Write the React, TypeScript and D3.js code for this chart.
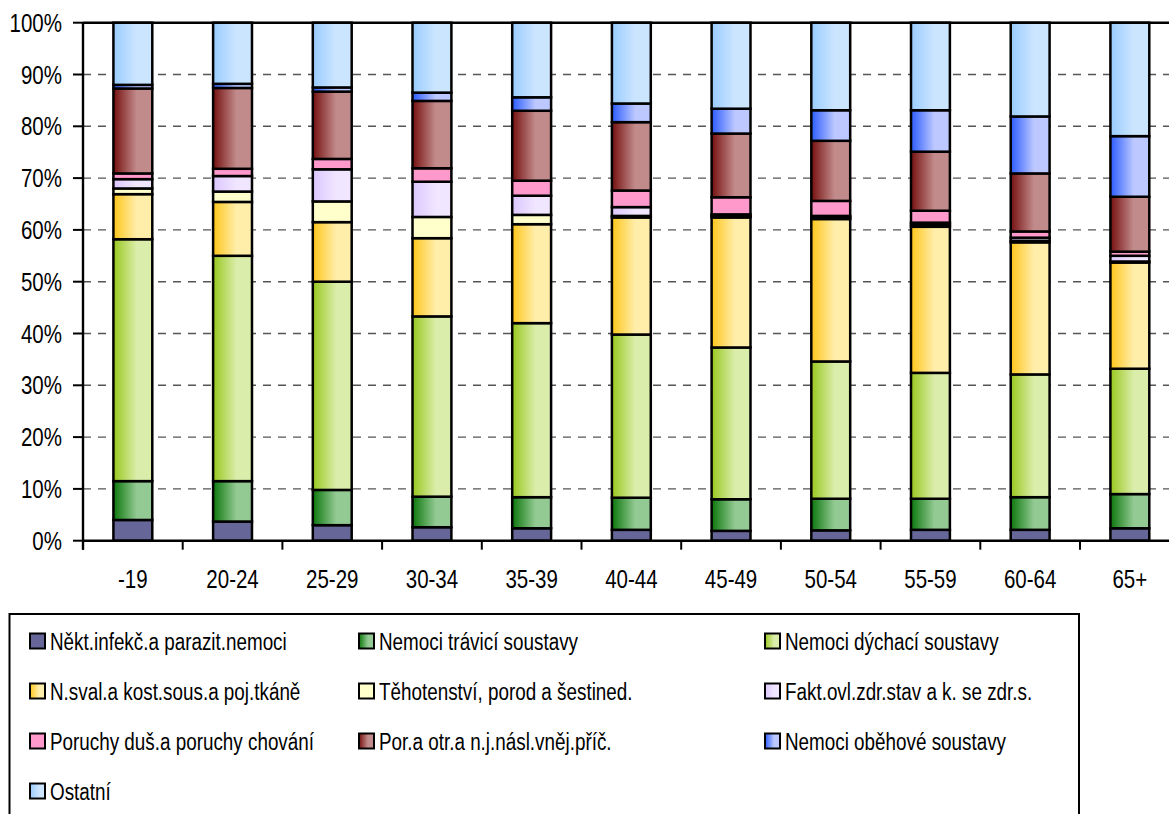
import { useEffect, useRef } from 'react';
import * as d3 from 'd3';

const categories = ['-19', '20-24', '25-29', '30-34', '35-39', '40-44', '45-49', '50-54', '55-59', '60-64', '65+'];

const seriesNames = [
  'Někt.infekč.a parazit.nemoci',
  'Nemoci trávicí soustavy',
  'Nemoci dýchací soustavy',
  'N.sval.a kost.sous.a poj.tkáně',
  'Těhotenství, porod a šestined.',
  'Fakt.ovl.zdr.stav a k. se zdr.s.',
  'Poruchy duš.a poruchy chování',
  'Por.a otr.a n.j.násl.vněj.příč.',
  'Nemoci oběhové soustavy',
  'Ostatní',
];

const infekcni = [4.0, 3.7, 3.0, 2.6, 2.4, 2.1, 1.9, 2.0, 2.1, 2.1, 2.4];
const travici = [7.5, 7.8, 6.8, 5.9, 6.0, 6.2, 6.1, 6.1, 6.0, 6.3, 6.6];
const dychaci = [46.7, 43.5, 40.2, 34.8, 33.6, 31.5, 29.3, 26.5, 24.3, 23.7, 24.2];
const svalova = [8.7, 10.4, 11.5, 15.1, 19.1, 22.6, 25.1, 27.5, 28.2, 25.5, 20.5];
const tehotenstvi = [1.1, 2.0, 4.0, 4.1, 1.8, 0.3, 0.3, 0.3, 0.4, 0.3, 0.2];
const faktory = [1.8, 3.0, 6.2, 6.8, 3.7, 1.7, 0.3, 0.3, 0.4, 0.6, 1.1];
const dusevni = [1.1, 1.4, 2.0, 2.6, 2.9, 3.2, 3.3, 2.9, 2.3, 1.2, 0.8];
const poraneni = [16.4, 15.6, 13.0, 13.0, 13.5, 13.2, 12.3, 11.6, 11.4, 11.2, 10.6];
const obehove = [0.7, 0.8, 0.8, 1.6, 2.6, 3.6, 4.8, 5.9, 8.0, 11.0, 11.7];
const ostatni = [12.0, 11.8, 12.5, 13.5, 14.4, 15.6, 16.6, 16.9, 16.9, 18.1, 21.9];

const seriesValues = [infekcni, travici, dychaci, svalova, tehotenstvi, faktory, dusevni, poraneni, obehove, ostatni];

// [dark edge, light side] of each fill gradient
const fills: [string, string][] = [
  ['#666699', '#666699'],
  ['#0c780c', '#93c993'],
  ['#99c81e', '#daedaa'],
  ['#ffc61a', '#ffedaa'],
  ['#ffffcc', '#ffffcc'],
  ['#dcc6ff', '#f0e6ff'],
  ['#ff99cc', '#ff99cc'],
  ['#761010', '#c28b8b'],
  ['#2c5cff', '#bcc8ff'],
  ['#99ccff', '#cce5ff'],
];

const yTicks = [0, 0.1, 0.2, 0.3, 0.4, 0.5, 0.6, 0.7, 0.8, 0.9, 1];

const FONT = "'Liberation Sans', Arial, sans-serif";
const NARROW = 0.82;

export default function App() {
  const svgRef = useRef<SVGSVGElement>(null);

  useEffect(() => {
    if (!svgRef.current) return;
    document.body.style.margin = '0';
    document.body.style.overflow = 'hidden';

    const W = 1169;
    const H = 814;
    const left = 83;
    const top = 22.7;
    const bottom = 540.7;
    const right = 1179.7;

    d3.select(svgRef.current).selectAll('*').remove();
    const svg = d3.select(svgRef.current).attr('width', W).attr('height', H);

    const defs = svg.append('defs');
    fills.forEach((f, i) => {
      const g = defs.append('linearGradient').attr('id', `grad${i}`).attr('x1', 0).attr('x2', 1).attr('y1', 0).attr('y2', 0);
      g.append('stop').attr('offset', '0%').attr('stop-color', f[0]);
      g.append('stop').attr('offset', '60%').attr('stop-color', f[1]);
      g.append('stop').attr('offset', '100%').attr('stop-color', f[1]);
    });

    const rows = categories.map((c, i) => {
      const r: any = { cat: c };
      seriesNames.forEach((s, j) => { r[s] = seriesValues[j][i]; });
      return r;
    });

    const stacked = d3.stack<any>().keys(seriesNames).offset(d3.stackOffsetExpand)(rows);

    const xTicks = d3.scaleBand().domain(categories).range([left, right]).padding(0);
    const x = d3.scaleBand().domain(categories).range([left, right]).paddingInner(0.61).paddingOuter(0.305);
    const y = d3.scaleLinear().domain([0, 1]).range([bottom, top]);
    const pct = d3.format('.0%');

    // gridlines
    svg.append('g')
      .selectAll('line')
      .data(yTicks.filter(t => t > 0 && t < 1))
      .enter()
      .append('line')
      .attr('x1', left)
      .attr('x2', W)
      .attr('y1', d => y(d))
      .attr('y2', d => y(d))
      .attr('stroke', '#555')
      .attr('stroke-width', 1.4)
      .attr('stroke-dasharray', '8,7');

    // bars
    svg.append('g')
      .selectAll('g')
      .data(stacked)
      .enter()
      .append('g')
      .attr('fill', (_d, i) => `url(#grad${i})`)
      .selectAll('rect')
      .data(d => d)
      .enter()
      .append('rect')
      .attr('x', d => x(d.data.cat) as number)
      .attr('width', x.bandwidth())
      .attr('y', d => y(d[1]))
      .attr('height', d => y(d[0]) - y(d[1]))
      .attr('stroke', '#000')
      .attr('stroke-width', 2.5);

    // plot frame top
    svg.append('line')
      .attr('x1', left).attr('x2', W)
      .attr('y1', top).attr('y2', top)
      .attr('stroke', '#000').attr('stroke-width', 2.4);

    // y axis
    const yAxis = svg.append('g');
    yAxis.append('line')
      .attr('x1', left).attr('x2', left)
      .attr('y1', top).attr('y2', bottom + 9)
      .attr('stroke', '#000').attr('stroke-width', 2.4);
    yAxis.selectAll('.yt')
      .data(yTicks)
      .enter()
      .append('line')
      .attr('x1', left - 10).attr('x2', left)
      .attr('y1', d => y(d)).attr('y2', d => y(d))
      .attr('stroke', '#000').attr('stroke-width', 2);
    yAxis.selectAll('.yl')
      .data(yTicks)
      .enter()
      .append('text')
      .attr('transform', d => `translate(62,${y(d) + 9}) scale(${NARROW},1)`)
      .attr('text-anchor', 'end')
      .attr('font-family', FONT)
      .attr('font-size', 25)
      .attr('fill', '#000')
      .text(d => pct(d));

    // x axis
    const xAxis = svg.append('g').attr('transform', `translate(0,${bottom})`);
    xAxis.append('line')
      .attr('x1', left).attr('x2', W)
      .attr('stroke', '#000').attr('stroke-width', 2.4);
    xAxis.selectAll('.xt')
      .data(categories)
      .enter()
      .append('line')
      .attr('class', 'xt')
      .attr('x1', d => xTicks(d) as number)
      .attr('x2', d => xTicks(d) as number)
      .attr('y1', 0)
      .attr('y2', 9)
      .attr('stroke', '#000')
      .attr('stroke-width', 2);
    xAxis.selectAll('.xl')
      .data(categories)
      .enter()
      .append('text')
      .attr('class', 'xl')
      .attr('transform', d => `translate(${(xTicks(d) as number) + xTicks.bandwidth() / 2},47) scale(${NARROW},1)`)
      .attr('text-anchor', 'middle')
      .attr('font-family', FONT)
      .attr('font-size', 25)
      .attr('fill', '#000')
      .text(d => d);

    // legend
    const lg = svg.append('g');
    lg.append('rect')
      .attr('x', 9.5).attr('y', 614)
      .attr('width', 1069.5).attr('height', 260)
      .attr('fill', '#fff')
      .attr('stroke', '#000').attr('stroke-width', 2);

    const colX = [29, 358, 764];
    const items = lg.selectAll('.li')
      .data(seriesNames)
      .enter()
      .append('g')
      .attr('class', 'li')
      .attr('transform', (_d, i) => `translate(${colX[i % 3]},${649.5 + Math.floor(i / 3) * 50})`);
    items.append('rect')
      .attr('x', 1).attr('y', -16)
      .attr('width', 15).attr('height', 15)
      .attr('fill', (_d, i) => `url(#grad${i})`)
      .attr('stroke', '#000').attr('stroke-width', 2);
    items.append('text')
      .attr('transform', `translate(21,0) scale(${NARROW},1)`)
      .attr('font-family', FONT)
      .attr('font-size', 23)
      .attr('fill', '#000')
      .text(d => d);
  }, []);

  return <svg ref={svgRef} style={{ display: 'block' }}></svg>;
}
